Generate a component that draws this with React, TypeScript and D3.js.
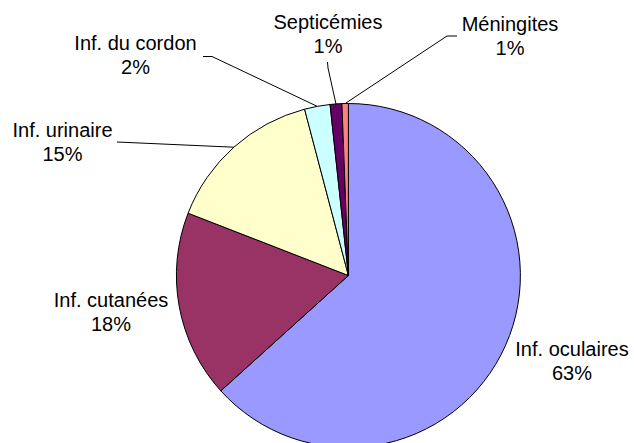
import * as d3 from 'd3';

const categories = ['Inf. oculaires', 'Inf. cutanées', 'Inf. urinaire', 'Inf. du cordon', 'Septicémies', 'Méningites'];
const values = [63.3, 17.6, 15.0, 2.4, 1.1, 0.6];
const colors = ['#9999FF', '#993366', '#FFFFCC', '#CCFFFF', '#660066', '#FF8080'];

// label placement (dragged by hand in the original), leader points before the slice edge
const labelPos: { x: number; y: number; leader: [number, number][] }[] = [
  { x: 572, y: 356, leader: [] },
  { x: 111, y: 307, leader: [] },
  { x: 62.5, y: 137, leader: [[117, 142]] },
  { x: 135.5, y: 50, leader: [[203, 56.5], [212, 56.5]] },
  { x: 328, y: 29, leader: [[327.5, 62], [328, 68]] },
  { x: 510, y: 31, leader: [[457, 36], [447, 36]] },
];

const width = 634;
const height = 443;
const cx = 348.4;
const cy = 275.5;
const radius = 172;

const App = () => {
  const pie = d3.pie<number>().sort(null).value(d => d);
  const arcs = pie(values);
  const arc = d3.arc<d3.PieArcDatum<number>>().innerRadius(0).outerRadius(radius);
  const line = d3.line();

  return (
    <svg width={width} height={height} style={{ position: 'absolute', left: 0, top: 0 }}
      fontFamily="'Liberation Sans', Arial, sans-serif" fontSize={20}>
      <rect width={width} height={height} fill="#fff" />
      <g transform={`translate(${cx},${cy})`}>
        {arcs.map((a, i) => (
          <path key={i} d={arc(a) || ''} fill={colors[i]} stroke="#000" strokeWidth={1} />
        ))}
      </g>
      {arcs.map((a, i) => {
        const lp = labelPos[i];
        if (!lp.leader.length) return null;
        const mid = (a.startAngle + a.endAngle) / 2;
        const edge: [number, number] = [cx + radius * Math.sin(mid), cy - radius * Math.cos(mid)];
        return <path key={i} d={line([...lp.leader, edge]) || ''} fill="none" stroke="#000" strokeWidth={1} />;
      })}
      {categories.map((c, i) => (
        <text key={i} x={labelPos[i].x} y={labelPos[i].y} textAnchor="middle" fill="#000">
          <tspan x={labelPos[i].x}>{c}</tspan>
          <tspan x={labelPos[i].x} dy={24}>{Math.round(values[i])}%</tspan>
        </text>
      ))}
    </svg>
  );
};

export default App;
